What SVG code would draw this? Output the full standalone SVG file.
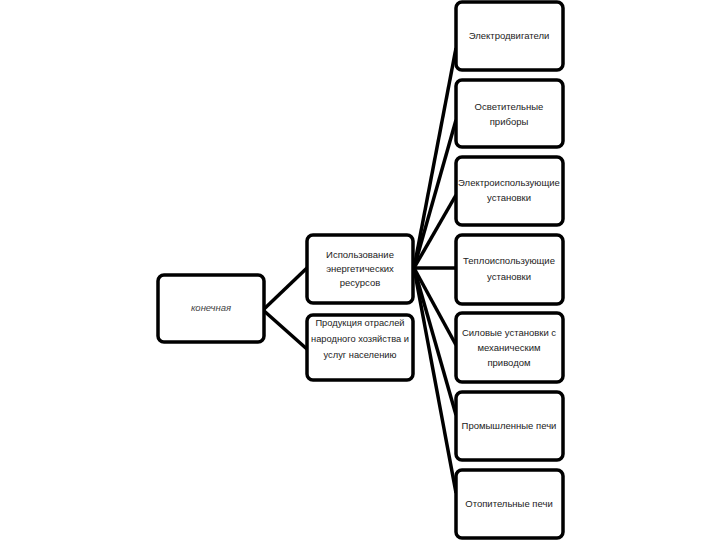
<svg xmlns="http://www.w3.org/2000/svg" width="720" height="540" viewBox="0 0 720 540">
<style>
.box{fill:#fff;stroke:#000;stroke-width:3.5}
.con{stroke:#000;stroke-width:3.5;fill:none}
text{font-family:"Liberation Sans","DejaVu Sans",sans-serif;font-size:9.5px;fill:#222;text-anchor:middle}
.it{font-style:italic;fill:#444}
.big{font-size:9.3px}
</style>
<rect width="720" height="540" fill="#fff"/>
<g id="connectors">
<line class="con" x1="263" y1="310" x2="308" y2="267"/>
<line class="con" x1="263" y1="310" x2="308" y2="350"/>
<line class="con" x1="414" y1="268" x2="456" y2="48"/>
<line class="con" x1="414" y1="268" x2="456" y2="120"/>
<line class="con" x1="414" y1="268" x2="456" y2="195"/>
<line class="con" x1="414" y1="268" x2="456" y2="268"/>
<line class="con" x1="414" y1="268" x2="456" y2="345"/>
<line class="con" x1="414" y1="268" x2="456" y2="415"/>
<line class="con" x1="414" y1="268" x2="456" y2="493"/>
</g>
<g id="n-final"><rect class="box" x="158" y="275" width="106" height="67" rx="6"/><text class="it" x="211" y="311">конечная</text></g>
<g id="n-use"><rect class="box" x="307" y="235" width="106" height="68" rx="6"/><text x="360" y="258">Использование</text><text x="360" y="272">энергетических</text><text x="360" y="286">ресурсов</text></g>
<g id="n-prod"><rect class="box" x="307" y="315" width="106" height="65" rx="6"/><text class="big" x="360" y="326">Продукция отраслей</text><text class="big" x="360" y="342">народного хозяйства и</text><text class="big" x="360" y="358">услуг населению</text></g>
<g id="n1"><rect class="box" x="456" y="2" width="107" height="68" rx="6"/><text x="509" y="39">Электродвигатели</text></g>
<g id="n2"><rect class="box" x="456" y="80" width="107" height="67" rx="6"/><text x="509" y="110">Осветительные</text><text x="509" y="125">приборы</text></g>
<g id="n3"><rect class="box" x="456" y="157" width="107" height="68" rx="6"/><text x="509" y="186">Электроиспользующие</text><text x="509" y="201">установки</text></g>
<g id="n4"><rect class="box" x="456" y="235" width="107" height="69" rx="6"/><text x="509" y="264">Теплоиспользующие</text><text x="509" y="280">установки</text></g>
<g id="n5"><rect class="box" x="456" y="313" width="107" height="69" rx="6"/><text x="509" y="336">Силовые установки с</text><text x="509" y="351">механическим</text><text x="509" y="366">приводом</text></g>
<g id="n6"><rect class="box" x="456" y="392" width="107" height="68" rx="6"/><text x="509" y="429">Промышленные печи</text></g>
<g id="n7"><rect class="box" x="456" y="470" width="107" height="68" rx="6"/><text x="509" y="507">Отопительные печи</text></g>
</svg>
